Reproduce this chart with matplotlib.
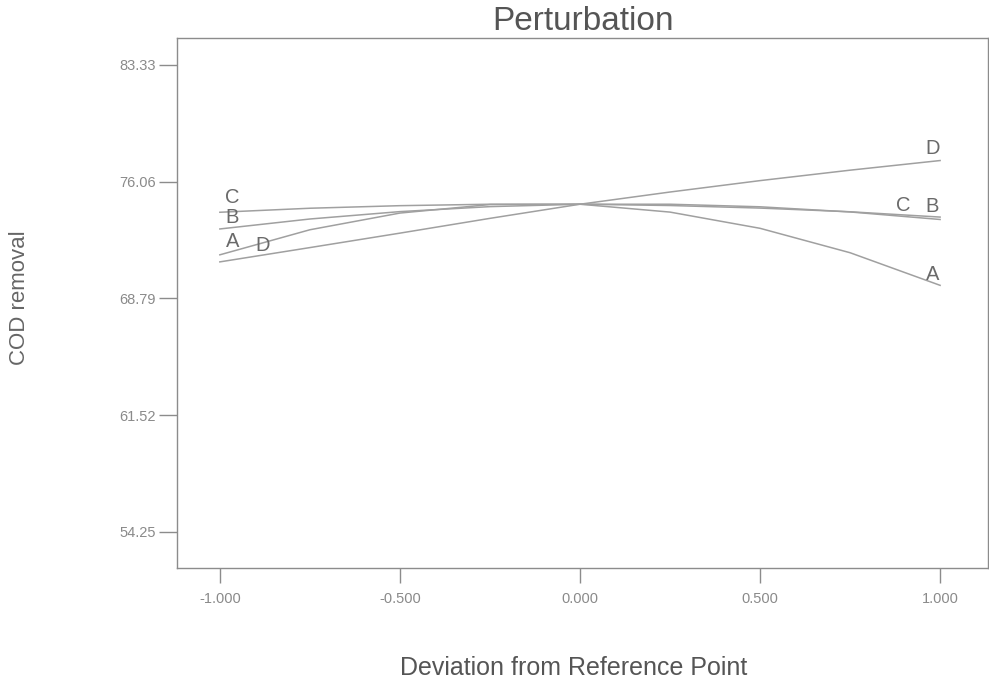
import matplotlib
matplotlib.use("Agg")
import matplotlib.pyplot as plt

plt.rcParams['font.family'] = ['Liberation Sans', 'DejaVu Sans']

# Deviation from reference point (coded units)
deviation = [-1.0, -0.75, -0.5, -0.25, 0.0, 0.25, 0.5, 0.75, 1.0]

# COD removal (%) along each factor's perturbation trace
cod_A = [71.50, 73.06, 74.10, 74.63, 74.65, 74.16, 73.15, 71.63, 69.60]
cod_B = [73.11, 73.73, 74.19, 74.50, 74.65, 74.65, 74.49, 74.17, 73.70]
cod_C = [74.15, 74.40, 74.56, 74.65, 74.65, 74.57, 74.41, 74.18, 73.85]
cod_D = [71.06, 71.95, 72.85, 73.77, 74.65, 75.41, 76.12, 76.77, 77.37]

series = {"A": cod_A, "B": cod_B, "C": cod_C, "D": cod_D}

# curve label positions (x, y) as seen in the chart
label_left = {"C": (-0.965, 75.05), "B": (-0.965, 73.85), "A": (-0.965, 72.35), "D": (-0.88, 72.05)}
label_right = {"D": (0.98, 78.10), "C": (0.897, 74.60), "B": (0.978, 74.50), "A": (0.978, 70.25)}

y_ticks = [54.25, 61.52, 68.79, 76.06, 83.33]
y_ticklabels = ["54.25", "61.52", "68.79", "76.06", "83.33"]
x_ticks = [-1.0, -0.5, 0.0, 0.5, 1.0]
x_ticklabels = ["-1.000", "-0.500", "0.000", "0.500", "1.000"]

fig = plt.figure(figsize=(9.89, 6.90), dpi=100)
fig.patch.set_facecolor("white")
ax = fig.add_axes([177/989, 122/690, 811/989, 530/690])

line_color = "#a0a0a0"
for name, vals in series.items():
    ax.plot(deviation, vals, color=line_color, lw=1.1)

txt_color = "#6a6a6a"
for name, (x, y) in label_left.items():
    ax.text(x, y, name, ha="center", va="center", fontsize=14.5, color=txt_color)
for name, (x, y) in label_right.items():
    ax.text(x, y, name, ha="center", va="center", fontsize=14.5, color=txt_color)

ax.set_xlim(-1.119, 1.133)
ax.set_ylim(52.0, 85.0)

ax.set_yticks(y_ticks)
ax.set_yticklabels(y_ticklabels)
ax.set_xticks(x_ticks)
ax.set_xticklabels(x_ticklabels)

for sp in ax.spines.values():
    sp.set_color("#8c8c8c")
    sp.set_linewidth(1.0)

ax.tick_params(axis="y", direction="out", length=13, width=1.0, color="#8c8c8c",
               labelsize=10.5, labelcolor="#8a8a8a", pad=2)
ax.tick_params(axis="x", direction="out", length=11, width=1.0, color="#8c8c8c",
               labelsize=10.5, labelcolor="#8a8a8a", pad=6)

fig.text(583/989, 1 - 21/690, "Perturbation", ha="center", va="center",
         fontsize=24, color="#555555")
fig.text(574/989, 1 - 668/690, "Deviation from Reference Point", ha="center", va="center",
         fontsize=18, color="#555555")
fig.text(20/989, 1 - 298/690, "COD removal", ha="center", va="center",
         rotation=90, fontsize=16, color="#666666")

fig.savefig("out.png", dpi=100, facecolor="white")
